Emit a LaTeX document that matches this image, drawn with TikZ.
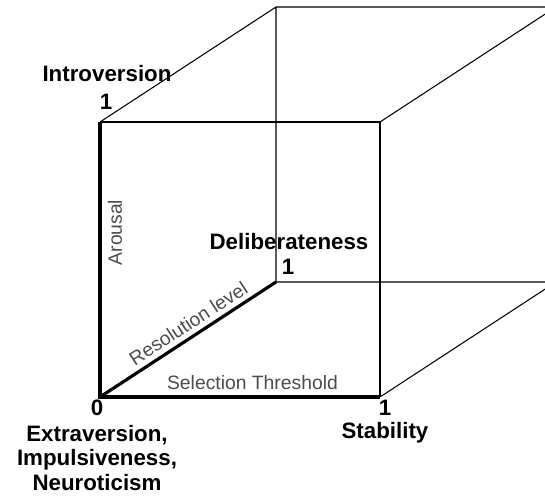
\documentclass[tikz,border=0pt]{standalone}
\usepackage{fontspec}
\setmainfont{Liberation Sans}
\begin{document}
\begin{tikzpicture}[x=0.02cm, y=0.02cm,
    edge/.style={line width=0.6pt},
    axisline/.style={line width=1.8pt},
    pole/.style={font=\fontsize{12.7}{14.2}\selectfont\bfseries, align=center, inner sep=0pt},
    dimlabel/.style={font=\fontsize{11}{13}\selectfont, text=black!70, inner sep=0pt}]
  \clip (-100,-100) rectangle (445,397);
  % corners of the cube
  \coordinate (o) at (0,0);
  \coordinate (stab) at (280,0);
  \coordinate (intro) at (0,275);
  \coordinate (ft) at (280,275);
  \coordinate (delib) at (176,115);
  \coordinate (bbr) at (456,115);
  \coordinate (btl) at (176,390);
  \coordinate (btr) at (456,390);
  % thin edges
  \draw[edge] (intro) -- (ft) -- (stab);
  \draw[edge] (intro) -- (btl) -- (btr) -- (bbr) -- (delib) -- (btl);
  \draw[edge] (ft) -- (btr);
  \draw[edge] (stab) -- (bbr);
  % the three axes
  \draw[axisline] (intro) -- (o) -- (stab);
  \draw[axisline] (o) -- (delib);
  % axis names
  \node[dimlabel, rotate=90] (arousal) at (15,164.5) {Arousal};
  \node[dimlabel, rotate=33.1] (reslevel) at (88.3,73.7) {Resolution level};
  \node[dimlabel] (selthr) at (152.5,14) {Selection Threshold};
  % poles
  \node[pole] (introname) at (7,323) {Introversion};
  \node[pole] (introone) at (6,295) {1};
  \node[pole] (delibname) at (189,155) {Deliberateness};
  \node[pole] (delibone) at (188,130) {1};
  \node[pole] (zero) at (-3,-11) {0};
  \node[pole] (extra) at (-3,-61) {Extraversion,\\Impulsiveness,\\Neuroticism};
  \node[pole] (stabone) at (285,-11) {1};
  \node[pole] (stabname) at (285,-36) {Stability};
\end{tikzpicture}
\end{document}
